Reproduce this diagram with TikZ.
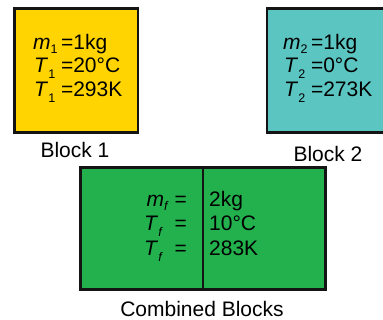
\documentclass[tikz,border=0pt]{standalone}
\usepackage{fontspec}
\setmainfont{Liberation Sans}
\usetikzlibrary{positioning}
\definecolor{Gold}{HTML}{FFD400}
\definecolor{Teal}{HTML}{5BC5C1}
\definecolor{Leaf}{HTML}{22B14C}
\definecolor{Edge}{HTML}{141414}
\newcommand{\low}[2]{\raisebox{-#1pt}{\fontsize{12.5}{12.5}\selectfont #2}}
\tikzset{
  blockbox/.style={draw=Edge,line width=2.9pt},
  val/.style={font=\fontsize{21}{25}\selectfont,inner sep=0pt},
  caption/.style={font=\fontsize{21}{25}\selectfont,inner sep=0pt,anchor=base}
}

\begin{document}
\begin{tikzpicture}[x=1pt,y=-1pt]
        \useasboundingbox (0,0) rectangle (383,320);
        % the two blocks
        \filldraw[blockbox,fill=Gold] (14.5,8.8) rectangle (138,132.5);
        \filldraw[blockbox,fill=Teal] (267,8.8) rectangle (392,132.5);
        \node[val,anchor=base west] (m1) at (33,50) {\textit{m}\low{4}{1}\,=1kg};
        \node[val,anchor=base west] (t1c) at (34,73) {\textit{T}\low{6}{1} =20°C};
        \node[val,anchor=base west] (t1k) at (34,97) {\textit{T}\low{6}{1} =293K};
        \node[val,anchor=base west] (m2) at (283,50) {\textit{m}\low{4}{2}\,=1kg};
        \node[val,anchor=base west] (t2c) at (284,73) {\textit{T}\low{6}{2} =0°C};
        \node[val,anchor=base west] (t2k) at (284,97) {\textit{T}\low{6}{2} =273K};
        \node[caption] (lab1) at (75,158) {Block 1};
        \node[caption] (lab2) at (328,162) {Block 2};
        % combined block
        \filldraw[blockbox,fill=Leaf] (80.5,167.5) rectangle (325.3,289.5);
        \draw[blockbox] (203,167.5) -- (203,289.5);
        \foreach \n/\y/\q/\v in {mf/207/\textit{m}\low{4}{\textit{f}} =/2kg,
                                 tfc/231/\textit{T}\low{6}{\textit{f}}\ \ =/10°C,
                                 tfk/256/\textit{T}\low{6}{\textit{f}}\ \ =/283K}{
          \node[val,anchor=base east] (\n q) at (187,\y) {\q};
          \node[val,anchor=base west] (\n v) at (209,\y) {\v};
        }
        \node[caption] (lab3) at (202,317) {Combined Blocks};
      \end{tikzpicture}
\end{document}
